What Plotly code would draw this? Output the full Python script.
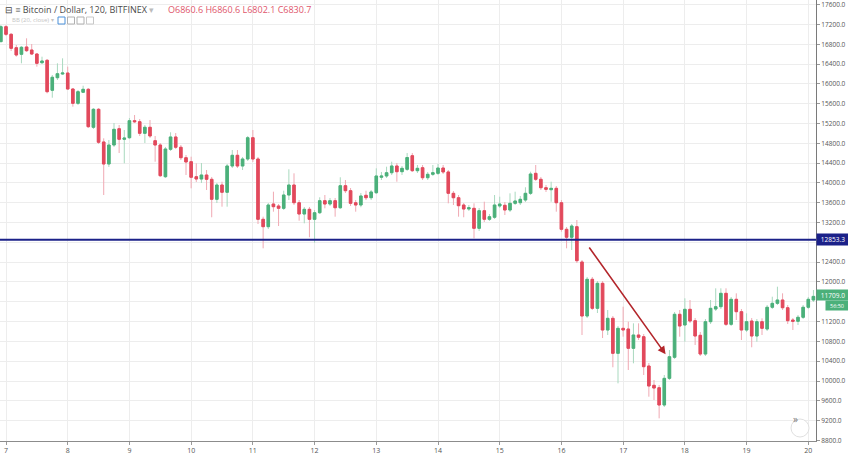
import pandas as pd
import plotly.graph_objects as go

# ---- data (BTC/USD, 2h candles, Bitfinex) ----
start_time = "2018-01-06 22:00"
opens = [16854,17157,17003,16732,16599,16747,16686,16605,16429,16478,
         15872,16126,16201,16221,15898,15609,15832,15892,15125,15488,
         14828,14383,14767,15096,14882,14914,15258,15238,15003,15125,
         14854,14767,14127,14680,14929,14721,14510,14430,14127,14080,
         14161,14074,13670,13959,13812,14343,14559,14343,14484,14914,
         14484,13266,13117,13575,13535,13488,13757,13959,13601,13373,
         13468,13266,13399,13642,13575,13642,13500,13945,13844,13601,
         13555,13751,13702,13803,14115,14141,14207,14343,14228,14276,
         14551,14248,14308,14106,14175,14195,14302,14222,13791,13702,
         13555,13474,13488,13084,13440,13266,13307,13535,13549,13454,
         13589,13601,13656,13791,14195,14074,13904,13864,13892,13601,
         13064,12903,13117,12404,11313,12054,11468,11973,11030,11266,
         10559,11064,11050,10660,10929,10895,10303,9913,9864,9515,
         10054,10479,11347,11131,11448,11218,10923,10545,11198,11454,
         11501,11771,11145,11650,11400,11030,11212,10909,11198,11050,
         11489,11569,11636,11480,11232,11206,11287,11489,11636]
highs = [17191,17191,17029,16787,16767,16922,16807,16625,16551,16504,
         16181,16417,16518,16349,15918,15878,15965,15918,15514,15514,
         14902,14868,15211,15171,15070,15312,15373,15292,15171,15272,
         14949,14807,14727,15024,15009,14767,14565,14531,14397,14403,
         14262,14121,13999,14026,14383,14666,14666,14525,14949,15070,
         14525,13319,13595,13824,13575,13844,14276,14195,13656,13515,
         13515,13454,13711,13757,13696,13696,14115,14060,13898,13656,
         13797,13844,13858,14296,14222,14329,14430,14403,14343,14605,
         14605,14363,14363,14222,14363,14383,14363,14262,13838,13757,
         13595,13555,13589,13494,13622,13373,13757,13723,13616,13791,
         13824,13737,13913,14228,14363,14121,13959,14026,13939,13656,
         13111,13171,13252,12444,12101,12101,12020,12020,11434,11313,
         11111,11501,11198,11165,11165,10949,10363,10020,9919,10121,
         10626,11394,11434,11670,11636,11272,10990,11252,11636,11872,
         11872,11872,11697,11771,11454,11367,11272,11252,11266,11535,
         11703,11905,11771,11535,11272,11333,11535,11697,11838]
lows = [16848,16969,16666,16551,16417,16646,16585,16349,16403,15811,
        15722,16080,16181,15878,15541,15575,15817,15110,15090,14787,
        13757,14323,14727,14605,14397,14888,15211,14949,14807,14908,
        14430,14121,14100,14646,14686,14464,14161,13892,14020,13999,
        13858,13307,13595,13521,13521,14302,14302,14262,14444,14424,
        13171,12680,13070,13420,13131,13454,13656,13555,13238,13185,
        12903,12793,13373,13488,13535,13319,13474,13797,13535,13420,
        13509,13656,13656,13777,14060,14100,14161,14026,14161,14242,
        14222,14201,14060,14060,14141,14161,14181,13589,13555,13319,
        13307,13434,12882,13030,13212,13232,13272,13494,13353,13414,
        13555,13555,13616,13757,14040,13858,13818,13622,13420,13016,
        12680,12646,12383,10929,11272,11434,11373,10868,10929,10277,
        9953,10895,10222,10357,10828,10121,9683,9616,9246,9475,
        10020,10444,10895,10794,11171,10727,10505,10505,11151,11414,
        11454,11111,11111,11232,10828,10990,10681,10794,10929,11010,
        11454,11535,11434,11151,11030,11131,11252,11454,11596]
closes = [17157,17003,16720,16585,16741,16672,16605,16417,16464,15844,
          16135,16207,16221,15898,15609,15844,15892,15137,15488,14822,
          14383,14767,15084,14882,14908,15258,15238,15003,15125,14949,
          14767,14147,14686,14929,14721,14510,14424,14115,14080,14161,
          14074,13670,13959,13812,14343,14559,14343,14484,14914,14484,
          13266,13117,13555,13521,13488,13757,13959,13601,13373,13468,
          13266,13399,13642,13575,13642,13500,13945,13844,13589,13555,
          13737,13702,13818,14141,14141,14207,14343,14228,14296,14514,
          14248,14296,14106,14175,14207,14302,14222,13791,13702,13541,
          13474,13500,13084,13440,13266,13319,13555,13575,13454,13589,
          13636,13670,13791,14181,14074,13904,13872,13892,13601,13064,
          12903,13131,12430,11313,12054,11468,11973,11030,11266,10559,
          11064,11030,10660,10929,10883,10289,9899,9858,9515,10054,
          10491,11347,11111,11448,11212,10909,10545,11198,11468,11501,
          11771,11145,11650,11400,11030,11198,10909,11198,11064,11489,
          11569,11636,11480,11218,11206,11287,11489,11650,11709]

day_ticks = ["2018-01-%02d" % d for d in range(7, 21)]
day_labels = [str(d) for d in range(7, 21)]
# price ticks shown on the scale (12800 and 11600 are hidden behind the price tags)
price_ticks = [8800, 9200, 9600, 10000, 10400, 10800, 11200, 12000, 12400,
               13200, 13600, 14000, 14400, 14800, 15200, 15600, 16000, 16400,
               16800, 17200, 17600]

level_price = 12853.3
last_price = 11709.0
countdown = "56:50"
arrow_from = ("2018-01-16 10:24", 12727)
arrow_to = ("2018-01-17 16:31", 10539)

header_title = "Bitcoin / Dollar, 120, BITFINEX"
header_ohlc = "O6860.6 H6860.6 L6802.1 C6830.7"
indicator = "BB (20, close)"

# ---- styling ----
UP = "#4bb07a"
DOWN = "#e2495c"
UP_WICK = "#a9d9bf"
DOWN_WICK = "#f0a9b3"
NAVY = "#1b2189"
FONT = "Open Sans"
GRID = "#ededed"

times = pd.date_range(start_time, periods=len(opens), freq="2h")
body_hi = [max(o, c) for o, c in zip(opens, closes)]
body_lo = [min(o, c) for o, c in zip(opens, closes)]

fig = go.Figure()
# wicks
fig.add_trace(go.Candlestick(
    x=times, open=opens, high=highs, low=lows, close=closes,
    increasing=dict(line=dict(color=UP_WICK, width=1), fillcolor=UP_WICK),
    decreasing=dict(line=dict(color=DOWN_WICK, width=1), fillcolor=DOWN_WICK),
    whiskerwidth=0, hoverinfo="skip", showlegend=False))
# bodies
fig.add_trace(go.Candlestick(
    x=times, open=opens, high=body_hi, low=body_lo, close=closes,
    increasing=dict(line=dict(color=UP, width=1), fillcolor=UP),
    decreasing=dict(line=dict(color=DOWN, width=1), fillcolor=DOWN),
    whiskerwidth=0, hoverinfo="skip", showlegend=False))

# support level
fig.add_shape(type="line", xref="paper", x0=0, x1=1, yref="y",
              y0=level_price, y1=level_price, line=dict(color=NAVY, width=2))

# arrow
fig.add_annotation(x=arrow_to[0], y=arrow_to[1], ax=arrow_from[0], ay=arrow_from[1],
                   xref="x", yref="y", axref="x", ayref="y", text="",
                   showarrow=True, arrowhead=2, arrowsize=1, arrowwidth=1.6,
                   arrowcolor="#b3262b")

# right-axis price labels
fig.add_annotation(xref="paper", x=1, yref="y", y=level_price, text=str(level_price),
                   xanchor="left", yanchor="middle", showarrow=False, width=30, height=9,
                   bgcolor=NAVY, font=dict(family=FONT, size=6.5, color="white"))
fig.add_annotation(xref="paper", x=1, yref="y", y=last_price + 20, text="%.1f" % last_price,
                   xanchor="left", yanchor="middle", showarrow=False, width=30, height=8,
                   bgcolor="#4bb07a", font=dict(family=FONT, size=6.5, color="white"))
fig.add_annotation(xref="paper", x=1.011, yref="y", y=last_price - 190, text=countdown,
                   xanchor="left", yanchor="middle", showarrow=False, width=20, height=7,
                   bgcolor="#4bb07a", font=dict(family=FONT, size=5.5, color="white"))

# header
fig.add_annotation(xref="paper", yref="paper", x=0.004, y=1 - 9 / 441,
                   text="⊟ ≡ " + header_title + " <span style='color:#bbb'>▾</span>",
                   xanchor="left", yanchor="middle", showarrow=False,
                   font=dict(family=FONT, size=9, color="#4a4a4a"))
fig.add_annotation(xref="paper", yref="paper", x=166 / 816, y=1 - 9 / 441,
                   text=header_ohlc, xanchor="left", yanchor="middle", showarrow=False,
                   font=dict(family=FONT, size=9, color="#e0566b"))
fig.add_annotation(xref="paper", yref="paper", x=10 / 816, y=1 - 20 / 441,
                   text=indicator + " ▾", xanchor="left", yanchor="middle", showarrow=False,
                   font=dict(family=FONT, size=6, color="#c4c4c4"))
for i, col in enumerate(["#4a90d9", "#b0b0b0", "#b0b0b0", "#c8c8c8"]):
    x0 = 58 + i * 9.5
    fig.add_shape(type="rect", xref="paper", yref="paper",
                  x0=x0 / 816, x1=(x0 + 7) / 816, y0=1 - 24 / 441, y1=1 - 17 / 441,
                  line=dict(color=col, width=1), fillcolor="white")

# scroll button
fig.add_shape(type="circle", xref="paper", yref="paper",
              x0=791 / 816, x1=809 / 816, y0=1 - 437 / 441, y1=1 - 419 / 441,
              line=dict(color="#e0e0e0", width=1), fillcolor="white")
fig.add_annotation(xref="paper", yref="paper", x=800 / 816, y=1 - 428 / 441, text="»",
                   showarrow=False, font=dict(family=FONT, size=10, color="#777"))

fig.update_layout(
    width=848, height=459, margin=dict(l=0, r=32, t=0, b=18),
    paper_bgcolor="white", plot_bgcolor="white", showlegend=False,
    font=dict(family=FONT, size=7, color="#555"),
    xaxis=dict(type="date", range=["2018-01-06 21:40", "2018-01-20 03:00"],
               rangeslider=dict(visible=False), tickvals=day_ticks, ticktext=day_labels,
               showgrid=True, gridcolor=GRID, gridwidth=1,
               showline=True, linecolor="#8c8c8c", linewidth=1,
               ticks="outside", ticklen=3, tickcolor="#9a9a9a",
               tickfont=dict(family=FONT, size=7, color="#555"), zeroline=False),
    yaxis=dict(side="right", range=[8788, 17696], tickvals=price_ticks, tickformat=".1f",
               showgrid=True, gridcolor=GRID, gridwidth=1,
               minor=dict(dtick=400, tick0=0, showgrid=True, gridcolor=GRID, ticks=""),
               showline=True, linecolor="#7a7a7a", linewidth=1,
               ticks="outside", ticklen=3, tickcolor="#9a9a9a",
               tickfont=dict(family=FONT, size=6.5, color="#555"), zeroline=False),
)

fig.write_html("out.html")
